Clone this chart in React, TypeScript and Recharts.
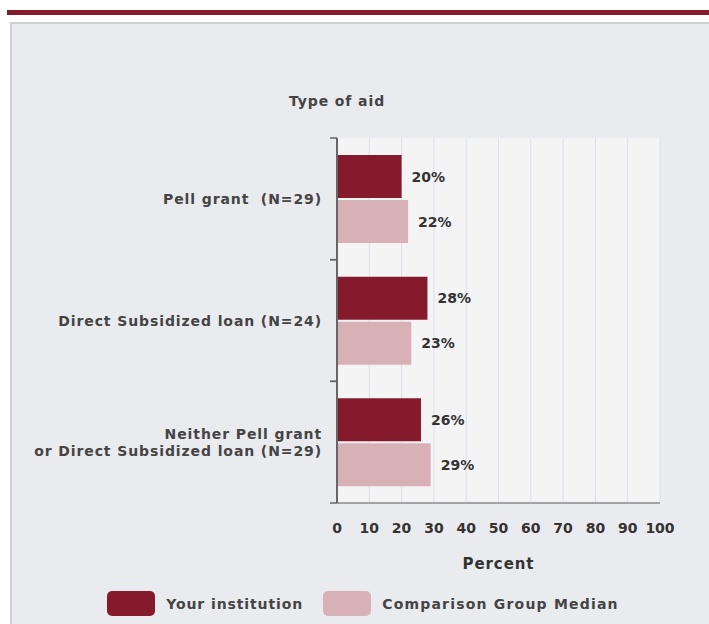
import React from 'react';
import { BarChart, Bar, XAxis, YAxis, CartesianGrid, Legend, LabelList, Label } from 'recharts';

const categories = [
    'Pell grant  (N=29)',
    'Direct Subsidized loan (N=24)',
    'Neither Pell grant\nor Direct Subsidized loan (N=29)',
];
const yourInstitution = [20, 28, 26];
const comparisonMedian = [22, 23, 29];
const percentTicks = [0, 10, 20, 30, 40, 50, 60, 70, 80, 90, 100];

const MAROON = '#861a2d';
const PINK = '#d8b1b7';
const FONT = '"DejaVu Sans", sans-serif';

const data = categories.map((name, i) => ({
    name,
    yours: yourInstitution[i],
    median: comparisonMedian[i],
}));

const CategoryTick = (props: any) => {
    const { x, y, payload } = props;
    const lines = String(payload.value).split('\n');
    const half = payload.offset || 0;
    const lineH = 17;
    const startY = y - ((lines.length - 1) * lineH) / 2;
    return (
        <g>
            <line x1={x + 8} x2={x + 15} y1={y - half} y2={y - half} stroke="#666" strokeWidth={1.5} />
            <line x1={x + 8} x2={x + 15} y1={y + half} y2={y + half} stroke="#666" strokeWidth={1.5} />
            {lines.map((ln, i) => (
                <text
                    key={i}
                    x={x}
                    y={startY + i * lineH}
                    dy="0.36em"
                    textAnchor="end"
                    fill="#444"
                    fontFamily={FONT}
                    fontWeight="bold"
                    fontSize={14}
                    letterSpacing={0.9}
                    style={{ whiteSpace: 'pre' }}
                >
                    {ln}
                </text>
            ))}
        </g>
    );
};

const renderLegend = () => {
    const items = [
        { label: 'Your institution', color: MAROON, spacing: 0.9 },
        { label: 'Comparison Group Median', color: PINK, spacing: 1.2 },
    ];
    return (
        <div style={{ display: 'flex', justifyContent: 'center', alignItems: 'center', height: 41, paddingLeft: 66 }}>
            {items.map((it, i) => (
                <div key={i} style={{ display: 'flex', alignItems: 'center', marginRight: i === 0 ? 20 : 0 }}>
                    <div style={{ width: 48, height: 25, borderRadius: 5, background: it.color, marginRight: 11 }} />
                    <span style={{ fontFamily: FONT, fontWeight: 'bold', fontSize: 14, color: '#444', letterSpacing: it.spacing }}>
                        {it.label}
                    </span>
                </div>
            ))}
        </div>
    );
};

export default function App() {
    return (
        <div style={{ position: 'absolute', left: 0, top: 0, width: 709, height: 624, background: '#fff', overflow: 'hidden' }}>
            <div style={{ position: 'absolute', left: 7, top: 10, right: 0, height: 5, background: MAROON }} />
            <div
                style={{
                    position: 'absolute', left: 10, top: 22, width: 720, height: 620,
                    background: '#eaebef', borderLeft: '2px solid #cfd0d4', borderTop: '2px solid #cfd0d4',
                }}
            />
            <div
                style={{
                    position: 'absolute', left: 237, top: 93, width: 200, textAlign: 'center',
                    fontFamily: FONT, fontWeight: 'bold', fontSize: 14, color: '#444', letterSpacing: 0.9,
                }}
            >
                Type of aid
            </div>
            <div style={{ position: 'absolute', left: 0, top: 0 }}>
                <BarChart
                    width={709}
                    height={624}
                    data={data}
                    layout="vertical"
                    margin={{ top: 138, right: 49, bottom: 0, left: 0 }}
                    barCategoryGap="14%"
                    barGap={2}
                >
                    <CartesianGrid horizontal={false} stroke="#dde0ea" fill="#f4f4f5" />
                    <XAxis
                        xAxisId="top"
                        orientation="top"
                        type="number"
                        domain={[0, 100]}
                        height={0}
                        tick={false}
                        tickLine={false}
                        axisLine={{ stroke: '#cfd1d6' }}
                    />
                    <XAxis
                        type="number"
                        domain={[0, 100]}
                        ticks={percentTicks}
                        interval={0}
                        height={80}
                        tickLine={false}
                        tickSize={0}
                        tickMargin={20}
                        axisLine={{ stroke: '#888', strokeWidth: 1.5 }}
                        tick={{ fill: '#333', fontFamily: FONT, fontWeight: 'bold', fontSize: 14 }}
                    >
                        <Label
                            value="Percent"
                            position="insideBottom"
                            offset={14}
                            fill="#333"
                            fontFamily={FONT}
                            fontWeight="bold"
                            fontSize={15}
                            letterSpacing={0.9}
                        />
                    </XAxis>
                    <YAxis
                        type="category"
                        dataKey="name"
                        width={337}
                        tickLine={false}
                        tickSize={7}
                        tickMargin={8}
                        axisLine={{ stroke: '#666', strokeWidth: 2 }}
                        tick={<CategoryTick />}
                        interval={0}
                    />
                    <YAxis
                        yAxisId="right"
                        orientation="right"
                        type="category"
                        dataKey="name"
                        width={0}
                        tick={false}
                        tickLine={false}
                        axisLine={{ stroke: '#bfc1c7', strokeWidth: 2 }}
                    />
                    <Legend verticalAlign="bottom" height={41} content={renderLegend} />
                    <Bar xAxisId={0} yAxisId={0} dataKey="yours" name="Your institution" fill={MAROON} isAnimationActive={false}>
                        <LabelList
                            dataKey="yours"
                            position="right"
                            offset={10}
                            formatter={(v: any) => `${v}%`}
                            fill="#333"
                            fontFamily={FONT}
                            fontWeight="bold"
                            fontSize={14}
                        />
                    </Bar>
                    <Bar xAxisId={0} yAxisId={0} dataKey="median" name="Comparison Group Median" fill={PINK} isAnimationActive={false}>
                        <LabelList
                            dataKey="median"
                            position="right"
                            offset={10}
                            formatter={(v: any) => `${v}%`}
                            fill="#333"
                            fontFamily={FONT}
                            fontWeight="bold"
                            fontSize={14}
                        />
                    </Bar>
                </BarChart>
            </div>
        </div>
    );
}
